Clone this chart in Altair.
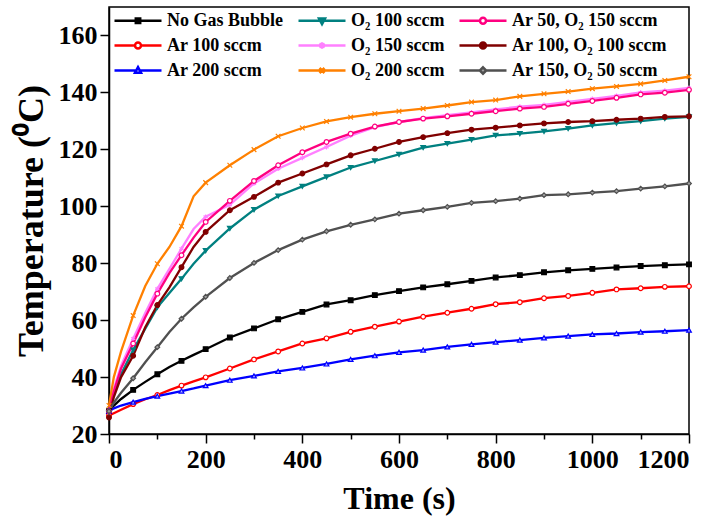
import altair as alt
import pandas as pd

# ---------------- data ----------------
time_s = [0, 10, 25, 50, 75, 100, 125, 150, 175, 200, 250, 300, 350, 400, 450,
          500, 550, 600, 650, 700, 750, 800, 850, 900, 950, 1000, 1050, 1100, 1150, 1200]

no_gas = [28, 30, 32.3, 35.5, 38.3, 41, 43.5, 45.7, 47.8, 49.8, 53.9, 57.1, 60.3, 62.9, 65.5,
          67, 68.8, 70.2, 71.5, 72.6, 73.8, 75, 75.8, 76.8, 77.5, 78, 78.5, 79, 79.3, 79.6]
ar100 = [26.5, 27.3, 28.5, 30.5, 32.2, 33.7, 35.4, 37, 38.5, 39.9, 43, 46.2, 49, 51.8, 53.6,
         55.9, 57.7, 59.5, 61.2, 62.6, 64, 65.6, 66.3, 67.7, 68.5, 69.6, 70.8, 71.2, 71.7, 71.9]
ar200 = [28, 29, 30, 31.2, 32.3, 33.3, 34.2, 35.1, 36, 37, 38.9, 40.4, 42, 43.2, 44.6,
         46.2, 47.5, 48.7, 49.5, 50.6, 51.5, 52.3, 53, 53.8, 54.4, 55, 55.3, 55.8, 56.1, 56.5]
o2_100 = [27.5, 34, 41, 49.5, 57, 64.5, 69.5, 74.5, 79.8, 84.4, 92.2, 98.8, 103.6, 107, 110.3,
          113.6, 115.9, 118.2, 120.6, 122, 123.4, 124.9, 125.5, 126.3, 127.3, 128.4, 129.2, 129.9, 130.8, 131.4]
o2_150 = [28, 36, 44, 53.5, 62.5, 71, 78, 85.1, 92, 96.3, 100.5, 108, 113.2, 117, 120.8,
          124.8, 127.8, 129.6, 131, 132, 133, 134, 135, 135.6, 136.7, 137.7, 138.8, 140, 140.6, 141.6]
o2_200 = [30, 40, 49, 61.6, 72, 79.8, 85.7, 93, 103.5, 108.3, 114.4, 119.9, 124.6, 127.5, 129.8,
          131.3, 132.5, 133.4, 134.3, 135.4, 136.6, 137.3, 138.6, 139.5, 140.3, 141.3, 142.1, 143, 144.2, 145.5]
ar50_o2150 = [28, 35, 43, 51.8, 61, 69.3, 76.5, 82.8, 89, 94.5, 101.9, 108.9, 114.4, 119, 122.6,
              125.5, 128, 129.6, 130.8, 131.6, 132.5, 133.4, 134.3, 134.9, 136, 137, 138.1, 139.3, 139.9, 140.9]
ar100_o2100 = [25.8, 33, 40, 47.5, 57.5, 65.3, 71.5, 78.6, 85.7, 91, 98.6, 103.3, 108.3, 111.5, 114.7,
               117.9, 120.2, 122.6, 124.3, 125.7, 126.9, 127.6, 128.4, 129.1, 129.6, 129.9, 130.4, 130.8, 131.4, 131.6]
ar150_o250 = [28, 31, 34.5, 39.6, 45.2, 50.5, 55.8, 60.5, 64.5, 68.2, 74.8, 80.1, 84.6, 88.3, 91.2,
              93.5, 95.4, 97.4, 98.6, 99.8, 101.2, 101.8, 102.7, 103.9, 104.2, 104.8, 105.3, 106.2, 107, 108]

series_names = ["No Gas Bubble", "Ar 100 sccm", "Ar 200 sccm",
                "O\u2082 100 sccm", "O\u2082 150 sccm", "O\u2082 200 sccm",
                "Ar 50, O\u2082 150 sccm", "Ar 100, O\u2082 100 sccm", "Ar 150, O\u2082 50 sccm"]
series_values = [no_gas, ar100, ar200, o2_100, o2_150, o2_200, ar50_o2150, ar100_o2100, ar150_o250]

x_ticks = list(range(0, 1201, 100))
y_ticks = list(range(20, 171, 10))

# ---------------- styles ----------------
style = {
    "No Gas Bubble":            dict(color="#000000", fill="#000000", shape="square", kind="square"),
    "Ar 100 sccm":              dict(color="#FF0000", fill="#FFFFFF", shape="circle", kind="ocircle"),
    "Ar 200 sccm":              dict(color="#0000FF", fill="#B4B4FF", shape="triangle-up", kind="tri_up"),
    "O\u2082 100 sccm":         dict(color="#008080", fill="#008080", shape="triangle-down", kind="tri_down"),
    "O\u2082 150 sccm":         dict(color="#FF80FF", fill="#FF80FF",
                                     shape="M0,-1V1M-0.9,-0.5L0.9,0.5M-0.9,0.5L0.9,-0.5", kind="star"),
    "O\u2082 200 sccm":         dict(color="#FF8000", fill="#FF8000",
                                     shape="M-1,-1L1,1M-1,1L1,-1", kind="x"),
    "Ar 50, O\u2082 150 sccm":  dict(color="#FF0080", fill="#FFFFFF", shape="circle", kind="ocircle"),
    "Ar 100, O\u2082 100 sccm": dict(color="#800000", fill="#800000", shape="circle", kind="fcircle"),
    "Ar 150, O\u2082 50 sccm":  dict(color="#505050", fill="#A0A0A0", shape="diamond", kind="diamond"),
}

# legend symbols: line segment + small marker. Unit = 10 px (symbolSize 400).
cx, r = 1.35, 0.3
L0, L1 = -1, 3.7


def legend_path(kind):
    line = f"M{L0},0H{L1}"
    if kind == "square":
        return line + f"M{cx-0.22},-0.22H{cx+0.22}V0.22H{cx-0.22}Z"
    if kind == "ocircle":
        return (f"M{L0},0H{cx-r}M{cx+r},0H{L1}"
                f"M{cx-r},0A{r},{r} 0 1,0 {cx+r},0A{r},{r} 0 1,0 {cx-r},0Z")
    if kind == "fcircle":
        return line + f"M{cx-r},0A{r},{r} 0 1,0 {cx+r},0A{r},{r} 0 1,0 {cx-r},0Z"
    if kind == "tri_up":
        return f"M{L0},0H{cx-0.22}M{cx+0.22},0H{L1}M{cx},-0.33L{cx+0.3},0.22H{cx-0.3}Z"
    if kind == "tri_down":
        return line + f"M{cx},0.33L{cx+0.3},-0.22H{cx-0.3}Z"
    if kind == "star":
        return line + (f"M{cx},-0.32V0.32M{cx-0.28},-0.16L{cx+0.28},0.16"
                       f"M{cx-0.28},0.16L{cx+0.28},-0.16")
    if kind == "x":
        return line + f"M{cx-0.25},-0.25L{cx+0.25},0.25M{cx-0.25},0.25L{cx+0.25},-0.25"
    if kind == "diamond":
        return (f"M{L0},0H{cx-0.32}M{cx+0.32},0H{L1}"
                f"M{cx},-0.32L{cx+0.32},0L{cx},0.32L{cx-0.32},0Z")
    return line


# legend grid is filled column by column: 3 columns x 3 rows
legend_order = series_names

rows = []
for name, vals in zip(series_names, series_values):
    for t, v in zip(time_s, vals):
        rows.append(dict(series=name, t=t, temp=v, lcolor=style[name]["color"]))
df = pd.DataFrame(rows)

FONT = "Liberation Serif"

x_enc = alt.X("t:Q", scale=alt.Scale(domain=[0, 1200], nice=False),
              axis=alt.Axis(values=x_ticks, title="Time (s)", format="d",
                            labelExpr="datum.value % 200 === 0 ? datum.label : ''",
                            tickSize={"condition": {"test": "datum.value % 200 === 0", "value": 9}, "value": 5},
                            labelPadding=3, titlePadding=11, titleFontSize=32))
y_enc = alt.Y("temp:Q", scale=alt.Scale(domain=[20, 170], nice=False, zero=False),
              axis=alt.Axis(values=y_ticks, title="Temperature (\u2070C)", format="d",
                            labelExpr="(datum.value % 20 === 0 && datum.value <= 160) ? datum.label : ''",
                            tickSize={"condition": {"test": "datum.value % 20 === 0", "value": 9}, "value": 5},
                            labelPadding=3, titlePadding=8, titleFontSize=36))

base = alt.Chart(df)

lines = base.mark_line(strokeWidth=2.3).encode(
    x=x_enc, y=y_enc,
    stroke=alt.Stroke("lcolor:N", scale=None),
    detail="series:N",
    order="t:Q",
)

marker_layers = []
for name in series_names:
    st = style[name]
    marker_layers.append(
        base.transform_filter(
            alt.FieldEqualPredicate(field="series", equal=name)
        ).transform_filter("datum.t % 50 === 0").mark_point(
            shape=st["shape"], fill=st["fill"], stroke=st["color"], filled=True,
            size=22, strokeWidth=1.2, opacity=1
        ).encode(x="t:Q", y="temp:Q")
    )

legend_layer = base.transform_filter("false").mark_point(filled=False, opacity=1).encode(
    x="t:Q", y="temp:Q",
    color=alt.Color("series:N",
                    scale=alt.Scale(domain=legend_order, range=[style[s]["color"] for s in legend_order]),
                    legend=alt.Legend(orient="none", legendX=4, legendY=2, columns=3, title=None,
                                      labelFont=FONT, labelFontSize=18, labelFontWeight="bold",
                                      labelColor="black", labelOffset=31, labelLimit=400,
                                      symbolSize=400, symbolStrokeWidth=2.5, symbolOpacity=1,
                                      columnPadding=9, rowPadding=4, padding=0)),
    shape=alt.Shape("series:N",
                    scale=alt.Scale(domain=legend_order,
                                    range=[legend_path(style[s]["kind"]) for s in legend_order])),
    fill=alt.Fill("series:N",
                  scale=alt.Scale(domain=legend_order, range=[style[s]["fill"] for s in legend_order])),
)

chart = alt.layer(lines, *marker_layers, legend_layer).properties(
    width=580, height=427,
    autosize=alt.AutoSizeParams(type="none"),
    padding={"left": 109, "top": 7, "right": 26, "bottom": 94},
    background="white",
).configure_view(
    stroke="black", strokeWidth=1.5
).configure_axis(
    grid=False, domainColor="black", domainWidth=1.5, tickColor="black", tickWidth=1.5,
    labelFont=FONT, labelFontSize=26, labelFontWeight="bold", labelColor="black",
    titleFont=FONT, titleFontWeight="bold", titleColor="black",
)

chart.save("out.html", embed_options={"renderer": "svg", "actions": False})
